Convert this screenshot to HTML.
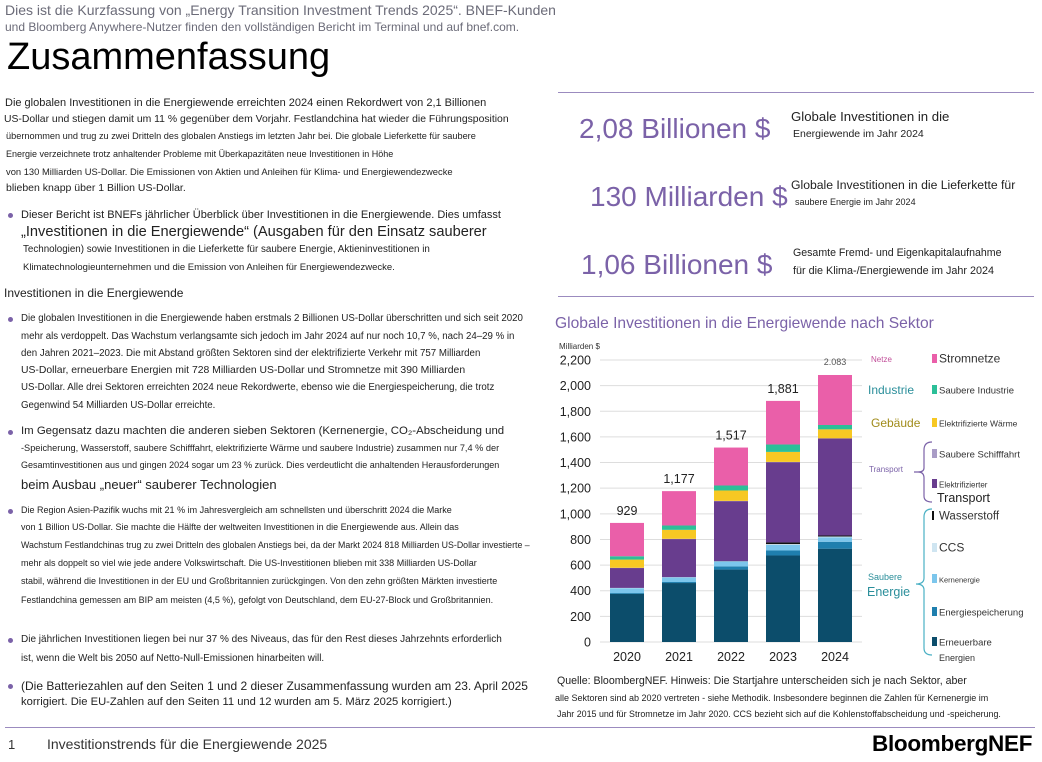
<!DOCTYPE html>
<html><head><meta charset="utf-8">
<style>
body{margin:0;width:1042px;height:762px;background:#fff;position:relative;overflow:hidden;font-family:"Liberation Sans",sans-serif;color:#222}
.t{position:absolute;white-space:nowrap;line-height:1}
.g{color:#6b6b78}
.s{font-size:9.7px}.m{font-size:10.5px}
.dot{position:absolute;width:5px;height:5px;border-radius:50%;background:#7b62a8}
.stat{position:absolute;font-size:28px;color:#7b62a8;white-space:nowrap;line-height:1}
</style></head><body>
<div class="t g" style="left:5px;top:3px;font-size:14px">Dies ist die Kurzfassung von „Energy Transition Investment Trends 2025“. BNEF-Kunden</div>
<div class="t g" style="left:5px;top:21px;font-size:12px">und Bloomberg Anywhere-Nutzer finden den vollständigen Bericht im Terminal und auf bnef.com.</div>
<div class="t" style="left:7px;top:38px;font-size:38px;color:#000">Zusammenfassung</div>

<div>
<div class="t" style="left:5px;top:98px;font-size:11px">Die globalen Investitionen in die Energiewende erreichten 2024 einen Rekordwert von 2,1 Billionen</div>
<div class="t" style="left:4px;top:115px;font-size:10.4px">US-Dollar und stiegen damit um 11 % gegenüber dem Vorjahr. Festlandchina hat wieder die Führungsposition</div>
<div class="t" style="left:6px;top:132px;font-size:9.2px">übernommen und trug zu zwei Dritteln des globalen Anstiegs im letzten Jahr bei. Die globale Lieferkette für saubere</div>
<div class="t" style="left:6px;top:150px;font-size:9px">Energie verzeichnete trotz anhaltender Probleme mit Überkapazitäten neue Investitionen in Höhe</div>
<div class="t" style="left:6px;top:167px;font-size:9.4px">von 130 Milliarden US-Dollar. Die Emissionen von Aktien und Anleihen für Klima- und Energiewendezwecke</div>
<div class="t m" style="left:6px;top:183px">blieben knapp über 1 Billion US-Dollar.</div>
</div>

<div class="dot" style="left:8px;top:213px"></div>
<div class="t" style="left:21px;top:210px;font-size:11px">Dieser Bericht ist BNEFs jährlicher Überblick über Investitionen in die Energiewende. Dies umfasst</div>
<div class="t" style="left:21px;top:225px;font-size:14.6px">„Investitionen in die Energiewende“ (Ausgaben für den Einsatz sauberer</div>
<div class="t" style="left:23px;top:245px;font-size:9.8px">Technologien) sowie Investitionen in die Lieferkette für saubere Energie, Aktieninvestitionen in</div>
<div class="t" style="left:23px;top:263px;font-size:9.5px">Klimatechnologieunternehmen und die Emission von Anleihen für Energiewendezwecke.</div>

<div class="t" style="left:4px;top:287px;font-size:12px">Investitionen in die Energiewende</div>

<div class="dot" style="left:8px;top:317px"></div>
<div class="t s" style="left:21px;top:314px">Die globalen Investitionen in die Energiewende haben erstmals 2 Billionen US-Dollar überschritten und sich seit 2020</div>
<div class="t s" style="left:21px;top:332px">mehr als verdoppelt. Das Wachstum verlangsamte sich jedoch im Jahr 2024 auf nur noch 10,7 %, nach 24–29 % in</div>
<div class="t s" style="left:21px;top:349px">den Jahren 2021–2023. Die mit Abstand größten Sektoren sind der elektrifizierte Verkehr mit 757 Milliarden</div>
<div class="t" style="left:21px;top:366px;font-size:10.4px">US-Dollar, erneuerbare Energien mit 728 Milliarden US-Dollar und Stromnetze mit 390 Milliarden</div>
<div class="t s" style="left:21px;top:383px">US-Dollar. Alle drei Sektoren erreichten 2024 neue Rekordwerte, ebenso wie die Energiespeicherung, die trotz</div>
<div class="t s" style="left:21px;top:401px">Gegenwind 54 Milliarden US-Dollar erreichte.</div>

<div class="dot" style="left:8px;top:430px"></div>
<div class="t" style="left:21px;top:426px;font-size:11.4px">Im Gegensatz dazu machten die anderen sieben Sektoren (Kernenergie, CO₂-Abscheidung und</div>
<div class="t" style="left:21px;top:444px;font-size:9.2px">-Speicherung, Wasserstoff, saubere Schifffahrt, elektrifizierte Wärme und saubere Industrie) zusammen nur 7,4 % der</div>
<div class="t" style="left:21px;top:461px;font-size:9px">Gesamtinvestitionen aus und gingen 2024 sogar um 23 % zurück. Dies verdeutlicht die anhaltenden Herausforderungen</div>
<div class="t" style="left:21px;top:478px;font-size:13px">beim Ausbau „neuer“ sauberer Technologien</div>

<div class="dot" style="left:8px;top:509px"></div>
<div class="t" style="left:21px;top:506px;font-size:9px">Die Region Asien-Pazifik wuchs mit 21 % im Jahresvergleich am schnellsten und überschritt 2024 die Marke</div>
<div class="t" style="left:21px;top:523px;font-size:9px">von 1 Billion US-Dollar. Sie machte die Hälfte der weltweiten Investitionen in die Energiewende aus. Allein das</div>
<div class="t" style="left:21px;top:541px;font-size:8.8px">Wachstum Festlandchinas trug zu zwei Dritteln des globalen Anstiegs bei, da der Markt 2024 818 Milliarden US-Dollar investierte –</div>
<div class="t" style="left:21px;top:559px;font-size:9px">mehr als doppelt so viel wie jede andere Volkswirtschaft. Die US-Investitionen blieben mit 338 Milliarden US-Dollar</div>
<div class="t" style="left:21px;top:577px;font-size:9px">stabil, während die Investitionen in der EU und Großbritannien zurückgingen. Von den zehn größten Märkten investierte</div>
<div class="t" style="left:21px;top:596px;font-size:9px">Festlandchina gemessen am BIP am meisten (4,5 %), gefolgt von Deutschland, dem EU-27-Block und Großbritannien.</div>

<div class="dot" style="left:8px;top:638px"></div>
<div class="t" style="left:21px;top:635px;font-size:10px">Die jährlichen Investitionen liegen bei nur 37 % des Niveaus, das für den Rest dieses Jahrzehnts erforderlich</div>
<div class="t" style="left:21px;top:654px;font-size:9.8px">ist, wenn die Welt bis 2050 auf Netto-Null-Emissionen hinarbeiten will.</div>

<div class="dot" style="left:8px;top:684px"></div>
<div class="t" style="left:21px;top:680px;font-size:12px">(Die Batteriezahlen auf den Seiten 1 und 2 dieser Zusammenfassung wurden am 23. April 2025</div>
<div class="t" style="left:21px;top:697px;font-size:11.2px">korrigiert. Die EU-Zahlen auf den Seiten 11 und 12 wurden am 5. März 2025 korrigiert.)</div>

<!-- right stats -->
<div style="position:absolute;left:558px;top:92px;width:476px;height:1px;background:#9b8bbf"></div>
<div class="stat" style="left:579px;top:115px">2,08 Billionen $</div>
<div class="t" style="left:791px;top:110px;font-size:13.2px">Globale Investitionen in die</div>
<div class="t" style="left:793px;top:129px;font-size:10.5px">Energiewende im Jahr 2024</div>
<div class="stat" style="left:590px;top:183px">130 Milliarden $</div>
<div class="t" style="left:791px;top:179px;font-size:12.2px">Globale Investitionen in die Lieferkette für</div>
<div class="t" style="left:795px;top:198px;font-size:9px">saubere Energie im Jahr 2024</div>
<div class="stat" style="left:581px;top:251px">1,06 Billionen $</div>
<div class="t" style="left:793px;top:248px;font-size:10.6px">Gesamte Fremd- und Eigenkapitalaufnahme</div>
<div class="t" style="left:793px;top:266px;font-size:10.8px">für die Klima-/Energiewende im Jahr 2024</div>
<div style="position:absolute;left:558px;top:296px;width:476px;height:1px;background:#9b8bbf"></div>

<div class="t" style="left:555px;top:316px;font-size:15.6px;color:#7b62a8">Globale Investitionen in die Energiewende nach Sektor</div>

<svg id="chart" style="position:absolute;left:0;top:0" width="1042" height="762"></svg>

<div class="t" style="left:557px;top:676px;font-size:10.6px">Quelle: BloombergNEF. Hinweis: Die Startjahre unterscheiden sich je nach Sektor, aber</div>
<div class="t" style="left:555px;top:694px;font-size:9px">alle Sektoren sind ab 2020 vertreten - siehe Methodik. Insbesondere beginnen die Zahlen für Kernenergie im</div>
<div class="t" style="left:557px;top:710px;font-size:8.9px">Jahr 2015 und für Stromnetze im Jahr 2020. CCS bezieht sich auf die Kohlenstoffabscheidung und -speicherung.</div>

<div style="position:absolute;left:5px;top:727px;width:1030px;height:1px;background:#9b8bbf"></div>
<div class="t" style="left:8px;top:738px;font-size:13px;color:#333">1</div>
<div class="t" style="left:47px;top:737px;font-size:14px;color:#333">Investitionstrends für die Energiewende 2025</div>
<div class="t" style="left:872px;top:733px;font-size:22.5px;font-weight:bold;color:#000;letter-spacing:-0.3px">BloombergNEF</div>

<script>
const years = ["2020","2021","2022","2023","2024"];
const renewables = [375,460,565,675,728];
const storage = [7,8,25,39,54];
const nuclear = [38,36,38,44,35];
const ccs = [2,2,2,6,6];
const hydrogen = [0,0,1,13,8];
const evTransport = [155,297,468,626,757];
const shipping = [2,2,2,2,1];
const heat = [64,70,81,78,70];
const industry = [26,34,39,58,34];
const grids = [260,268,296,340,390];
const totals = ["929","1,177","1,517","1,881","2.083"];
const yTicks = [0,200,400,600,800,1000,1200,1400,1600,1800,2000,2200];

const series = [
 {name:"renewables",v:renewables,c:"#0c4d6b"},
 {name:"storage",v:storage,c:"#1f7fae"},
 {name:"nuclear",v:nuclear,c:"#7cc6ec"},
 {name:"ccs",v:ccs,c:"#cfe5f1"},
 {name:"hydrogen",v:hydrogen,c:"#111111"},
 {name:"ev-transport",v:evTransport,c:"#683d8e"},
 {name:"shipping",v:shipping,c:"#a99cc6"},
 {name:"heat",v:heat,c:"#f7c823"},
 {name:"industry",v:industry,c:"#2cbf98"},
 {name:"grids",v:grids,c:"#ea5fa9"}];

const svg=document.getElementById('chart');
const NS="http://www.w3.org/2000/svg";
const y0=642, yTop=360, vMax=2200, xL=600, xR=862;
const yS=v=>y0-(v/vMax)*(y0-yTop);
const xC=i=>627+i*52;
const bw=34;
function mk(tag,a){const e=document.createElementNS(NS,tag);for(const k in a)e.setAttribute(k,a[k]);svg.appendChild(e);return e;}

yTicks.forEach(t=>{
 const gl=mk('line',{x1:xL,x2:xR,y1:yS(t),y2:yS(t),stroke:"#dddddd","stroke-width":1});
 
 
 const tx=mk('text',{x:591,y:yS(t)+4.5,"text-anchor":"end","font-size":12.5,fill:"#222","font-family":"Liberation Sans, sans-serif"});
 tx.textContent=t.toLocaleString('en-US');
 
 
});
const ut=mk('text',{x:559,y:349,"font-size":8,fill:"#333","font-family":"Liberation Sans, sans-serif"});
ut.textContent="Milliarden $";



years.forEach((yr,i)=>{
 let acc=0;
 series.forEach(s=>{
  const v=s.v[i]; if(v<=0){return;}
  const r=mk('rect',{x:xC(i)-bw/2,y:yS(acc+v),width:bw,height:yS(acc)-yS(acc+v),fill:s.c});
  
  
  acc+=v;
 });
 const lt=mk('text',{x:xC(i),y:yS(acc)-(i==4?10:8),"text-anchor":"middle","font-size":i==4?9:12.5,fill:i==4?"#555":"#222","font-family":"Liberation Sans, sans-serif"});
 lt.textContent=totals[i];
 
 
 const xt=mk('text',{x:xC(i),y:661,"text-anchor":"middle","font-size":12.5,fill:"#222","font-family":"Liberation Sans, sans-serif"});
 xt.textContent=yr;
 
 
});

const legend=[
 {t:"Stromnetze",c:"#ea5fa9",y:359,fs:12},
 {t:"Saubere Industrie",c:"#2cbf98",y:390,fs:9.5},
 {t:"Elektrifizierte Wärme",c:"#f7c823",y:423,fs:8.5},
 {t:"Saubere Schifffahrt",c:"#a99cc6",y:454,fs:9.5},
 {t:"Elektrifizierter",c:"#683d8e",y:484,fs:8},
 {t:"Wasserstoff",c:"#111111",y:516,fs:11.5,w:2},
 {t:"CCS",c:"#cfe5f1",y:548,fs:12},
 {t:"Kernenergie",c:"#7cc6ec",y:579,fs:7.5},
 {t:"Energiespeicherung",c:"#1f7fae",y:612,fs:9.5},
 {t:"Erneuerbare",c:"#0c4d6b",y:642,fs:9.5}];
legend.forEach(l=>{
 const r=mk('rect',{x:932,y:l.y-5,width:l.w||5,height:9,fill:l.c});
 
 
 const t=mk('text',{x:939,y:l.y+3.5,"font-size":l.fs,fill:"#333","font-family":"Liberation Sans, sans-serif"});
 t.textContent=l.t;
 
 
});
const extra=[["Transport",937,502,12.5,"#222"],["Energien",939,661,9,"#333"],
 ["Netze",871,362,8,"#c2509a"],["Industrie",868,394,12,"#2a8e9a"],["Gebäude",871,427,12,"#a08b1a"],
 ["Transport",869,472,8,"#7b62a8"],["Saubere",868,580,9,"#2a8e9a"],["Energie",867,596,12.5,"#2a8e9a"]];
extra.forEach(e=>{
 const t=mk('text',{x:e[1],y:e[2],"font-size":e[3],fill:e[4],"font-family":"Liberation Sans, sans-serif"});
 t.textContent=e[0];
 
 
});
const b1=mk('path',{d:"M932,442 Q924,442 924,450 L924,468 Q924,472 918,472 L914,472 M918,472 Q924,472 924,478 L924,496 Q924,502 932,502",fill:"none",stroke:"#7b62a8","stroke-width":1.2});


const b2=mk('path',{d:"M932,509 Q924,509 924,517 L924,578 Q924,584 916,584 M916,584 Q924,584 924,590 L924,648 Q924,655 932,655",fill:"none",stroke:"#4ab0c4","stroke-width":1.2});


</script>
</body></html>
